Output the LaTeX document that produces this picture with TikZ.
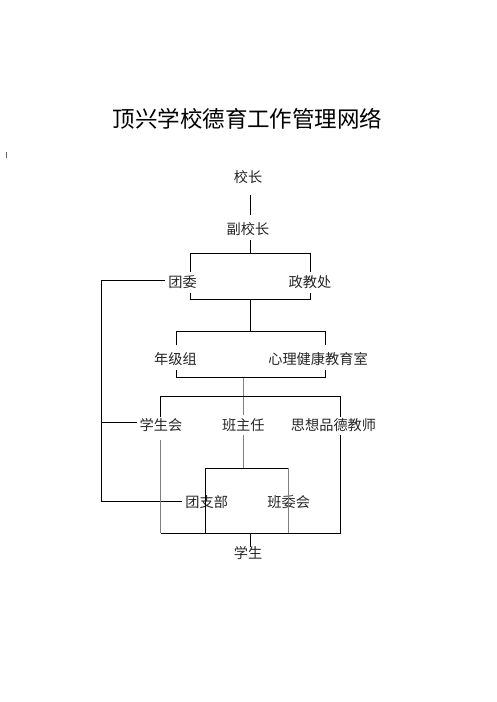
\documentclass[tikz,border=0pt]{standalone}
\usepackage{fontspec}
\newfontfamily\cjk{Noto Sans CJK SC}
\begin{document}
\begin{tikzpicture}[x=1pt,y=-1pt,
  lab/.style={font=\cjk\fontsize{14.2}{16}\selectfont, text=black!85, inner sep=0pt, anchor=center},
  ttl/.style={font=\cjk\fontsize{22.5}{26}\selectfont, text=black, inner sep=0pt},
  ln/.style={draw=black, line width=0.9pt},
  gln/.style={draw=black!50, line width=1.1pt}]
\useasboundingbox (0,0) rectangle (496,702);
\fill[white] (0,0) rectangle (496,702);
% texts
\node[ttl] (title) at (247.5,119) {顶兴学校德育工作管理网络};
\node[lab] (xz) at (248,177) {校长};
\node[lab] (fxz) at (248,229) {副校长};
\node[lab] (tw) at (182.5,281.7) {团委};
\node[lab] (zjc) at (310,281.7) {政教处};
\node[lab] (njz) at (175.5,359) {年级组};
\node[lab] (xl) at (318,359) {心理健康教育室};
\node[lab] (xsh) at (161,425) {学生会};
\node[lab] (bzr) at (243.3,425) {班主任};
\node[lab] (sx) at (333.5,425) {思想品德教师};
\node[lab] (tzb) at (206.7,501.7) {团支部};
\node[lab] (bwh) at (288.7,501.7) {班委会};
\node[lab] (xs) at (248,553.3) {学生};
% junction coordinates
\coordinate (a1) at (250.7,195);
\coordinate (a2) at (250.7,215);
\coordinate (b0) at (250.7,240);
\coordinate (b1) at (250.7,253);
\coordinate (bl) at (190.7,253);
\coordinate (br) at (310,253);
\coordinate (blt) at (190.7,272);
\coordinate (brt) at (310,272);
\coordinate (cl0) at (190.7,292.7);
\coordinate (cr0) at (310,292.7);
\coordinate (cl) at (190.7,299.3);
\coordinate (cr) at (310,299.3);
\coordinate (c1) at (250.7,299.3);
\coordinate (d1) at (250.7,331.7);
\coordinate (dl) at (176,331.7);
\coordinate (dr) at (325.3,331.7);
\coordinate (dlt) at (176,345);
\coordinate (drt) at (325.3,345);
\coordinate (el0) at (176,370);
\coordinate (er0) at (325.3,370);
\coordinate (el) at (176,377.7);
\coordinate (er) at (325.3,377.7);
\coordinate (e1) at (243.3,377.7);
\coordinate (e2) at (243.3,415);
\coordinate (fl) at (160.7,396);
\coordinate (fr) at (340.7,396);
\coordinate (flt) at (160.7,416.7);
\coordinate (frt) at (340.7,416.7);
\coordinate (tw0) at (165,280.7);
\coordinate (g1) at (101.7,280.7);
\coordinate (g2) at (101.7,501);
\coordinate (g3) at (182,501);
\coordinate (xsh0) at (136.7,422.3);
\coordinate (g4) at (101.7,422.3);
\coordinate (h1) at (160.7,440);
\coordinate (h2) at (160.7,533.3);
\coordinate (i1) at (243.3,435);
\coordinate (i2) at (243.3,468.3);
\coordinate (il) at (205.3,468.3);
\coordinate (ir) at (288.3,468.3);
\coordinate (ilb) at (205.3,533.3);
\coordinate (irb) at (288.3,533.3);
\coordinate (j1) at (340.7,435);
\coordinate (j2) at (340.7,533.3);
\coordinate (k1) at (250.7,533.3);
\coordinate (k2) at (250.7,546.7);
\coordinate (m1) at (6,152);
\coordinate (m2) at (6,157.5);
% connectors
\draw[ln] (a1) -- (a2);
\draw[ln] (b0) -- (b1);
\draw[ln] (blt) -- (bl) -- (br) -- (brt);
\draw[ln] (cl0) -- (cl) -- (cr) -- (cr0);
\draw[ln] (c1) -- (d1);
\draw[ln] (dlt) -- (dl) -- (dr) -- (drt);
\draw[ln] (el0) -- (el) -- (er) -- (er0);
\draw[gln] (e1) -- (e2);
\draw[ln] (flt) -- (fl) -- (fr) -- (frt);
\draw[ln] (tw0) -- (g1) -- (g2) -- (g3);
\draw[ln] (xsh0) -- (g4);
\draw[gln] (h1) -- (h2);
\draw[gln] (i1) -- (i2);
\draw[ln] (ilb) -- (il) -- (ir);
\draw[gln] (ir) -- (irb);
\draw[ln] (j1) -- (j2);
\draw[ln] (h2) -- (j2);
\draw[ln] (k1) -- (k2);
\draw[draw=black!60, line width=0.8pt] (m1) -- (m2);
\end{tikzpicture}
\end{document}
